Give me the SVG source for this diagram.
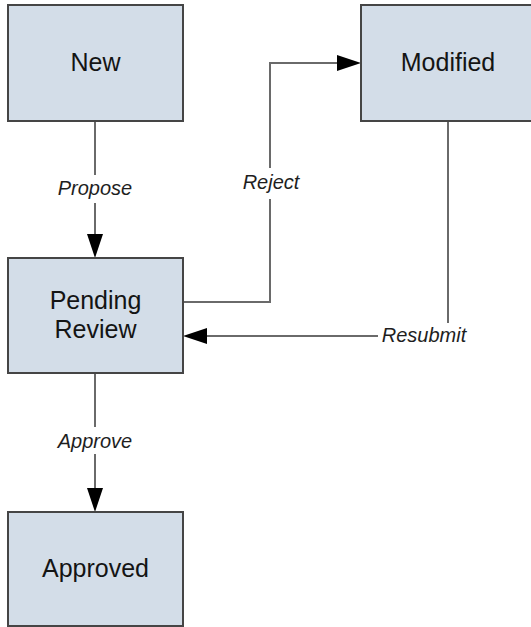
<svg xmlns="http://www.w3.org/2000/svg" width="531" height="627" viewBox="0 0 531 627">
<style>
.node rect{fill:#d3dde8;stroke:#454545;stroke-width:2}
.node text{font-family:"Liberation Sans",Arial,sans-serif;font-size:25px;fill:#141414;text-anchor:middle}
.conn path{fill:none;stroke:#6a6a6a;stroke-width:2}
.lbl{font-family:"Liberation Sans",Arial,sans-serif;font-size:20px;font-style:italic;fill:#1e1e1e;text-anchor:middle}
.ah{fill:#000}
</style>
<rect width="531" height="627" fill="#fff"/>
<g id="connectors" class="conn">
<path d="M95 121V175M95 203V238"/>
<polygon class="ah" points="95,258 87,234 103,234"/>
<text class="lbl" x="95" y="195">Propose</text>
<path d="M183 302H270V199M270 168V63H339"/>
<polygon class="ah" points="361,63 337,55 337,71"/>
<text class="lbl" x="271" y="189">Reject</text>
<path d="M448 121V323M378 336H205"/>
<polygon class="ah" points="183,336 207,328 207,344"/>
<text class="lbl" x="424" y="342">Resubmit</text>
<path d="M95 373V427M95 454V490"/>
<polygon class="ah" points="95,512 87,488 103,488"/>
<text class="lbl" x="95" y="448">Approve</text>
</g>
<g id="node-new" class="node"><rect x="8" y="5" width="175" height="116"/><text x="95.5" y="71">New</text></g>
<g id="node-modified" class="node"><rect x="361" y="5" width="176" height="116"/><text x="448" y="71">Modified</text></g>
<g id="node-pending" class="node"><rect x="8" y="258" width="175" height="115"/><text x="95.5" y="309">Pending</text><text x="95.5" y="338">Review</text></g>
<g id="node-approved" class="node"><rect x="8" y="512" width="175" height="114"/><text x="95.5" y="577">Approved</text></g>
</svg>
